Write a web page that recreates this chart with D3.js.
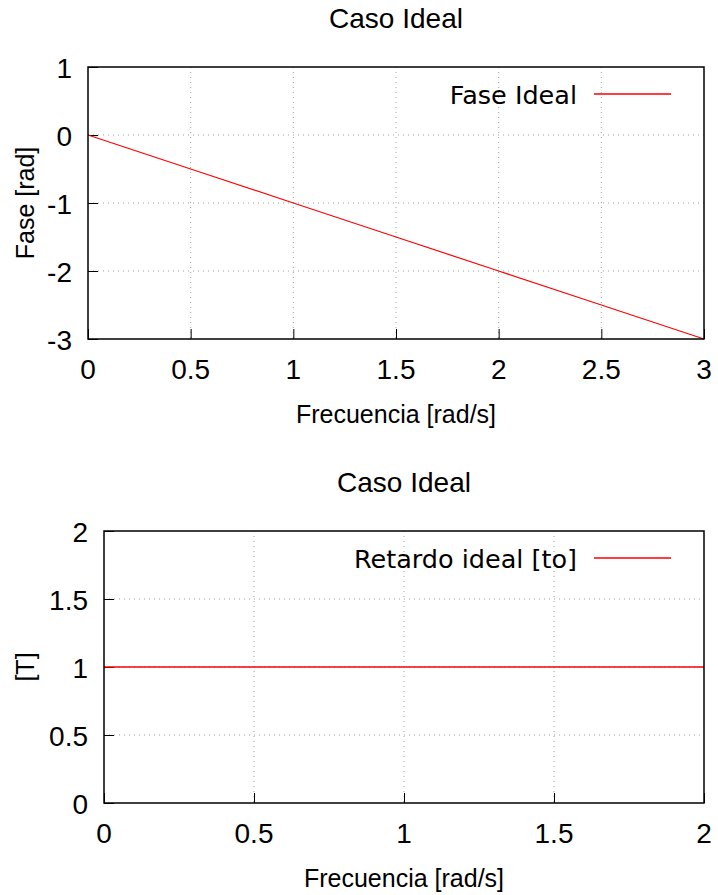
<!DOCTYPE html>
<html>
<head>
<meta charset="utf-8">
<script src="https://cdn.jsdelivr.net/npm/d3@7"></script>
<style>
  body { margin: 0; background: #fff; }
  text { font-family: "Liberation Sans", Arial, sans-serif; fill: #000; }
</style>
</head>
<body>
<script>
// chart size
var w = 718;
var h = 895;

// data, top plot (phase)
var freq1 = [0, 0.5, 1, 1.5, 2, 2.5, 3];
var fase = [0, -0.5, -1, -1.5, -2, -2.5, -3];
var xTicks1 = [0, 0.5, 1, 1.5, 2, 2.5, 3];
var yTicks1 = [-3, -2, -1, 0, 1];

// data, bottom plot (delay)
var freq2 = [0, 0.5, 1, 1.5, 2];
var retardo = [1, 1, 1, 1, 1];
var xTicks2 = [0, 0.5, 1, 1.5, 2];
var yTicks2 = [0, 0.5, 1, 1.5, 2];

var svg = d3.select("body")
  .append("svg")
  .attr("width", w)
  .attr("height", h);

function drawPlot(opt) {
  var x = d3.scaleLinear().domain(opt.xDomain).range([opt.left, opt.right]);
  var y = d3.scaleLinear().domain(opt.yDomain).range([opt.bottom, opt.top]);
  var g = svg.append("g");

  // grid (dotted)
  g.selectAll(".gx").data(opt.xTicks.slice(1, -1)).enter().append("line")
    .attr("x1", d => x(d)).attr("x2", d => x(d))
    .attr("y1", opt.top).attr("y2", opt.bottom)
    .attr("stroke", "#a0a0a0").attr("stroke-dasharray", "1,4");
  g.selectAll(".gy").data(opt.yTicks.slice(1, -1)).enter().append("line")
    .attr("y1", d => y(d)).attr("y2", d => y(d))
    .attr("x1", opt.left).attr("x2", opt.right)
    .attr("stroke", "#a0a0a0").attr("stroke-dasharray", "1,4");

  // inward ticks via d3 axes
  var xAxis = d3.axisBottom(x).tickValues(opt.xTicks).tickSize(-10).tickFormat("");
  var yAxis = d3.axisLeft(y).tickValues(opt.yTicks).tickSize(-10).tickFormat("");
  g.append("g").attr("transform", "translate(0," + opt.bottom + ")").call(xAxis)
    .call(a => a.select(".domain").remove());
  g.append("g").attr("transform", "translate(" + opt.left + ",0)").call(yAxis)
    .call(a => a.select(".domain").remove());
  g.selectAll(".tick line").attr("stroke", "#000");

  // tick labels
  g.selectAll(".xl").data(opt.xTicks).enter().append("text")
    .attr("x", d => x(d)).attr("y", opt.bottom + 40)
    .attr("text-anchor", "middle").attr("font-size", 28)
    .text(d => d);
  g.selectAll(".yl").data(opt.yTicks).enter().append("text")
    .attr("x", opt.left - 16).attr("y", d => y(d) + 11)
    .attr("text-anchor", "end").attr("font-size", 28)
    .text(d => d);

  // data line
  var line = d3.line().x(d => x(d[0])).y(d => y(d[1]));
  g.append("path")
    .datum(d3.zip(opt.xs, opt.ys))
    .attr("d", line)
    .attr("fill", "none").attr("stroke", "red").attr("stroke-width", opt.lw);

  // frame
  g.append("rect")
    .attr("x", opt.left).attr("y", opt.top)
    .attr("width", opt.right - opt.left).attr("height", opt.bottom - opt.top)
    .attr("fill", "none").attr("stroke", "#000").attr("stroke-width", 1.5);

  // title and labels
  var cx = (opt.left + opt.right) / 2;
  g.append("text").attr("x", cx).attr("y", opt.top - 39)
    .attr("text-anchor", "middle").attr("font-size", 28).text(opt.title);
  g.append("text").attr("x", cx).attr("y", opt.bottom + 84)
    .attr("text-anchor", "middle").attr("font-size", 25).text(opt.xLabel);
  g.append("text")
    .attr("transform", "translate(34," + (opt.top + opt.bottom) / 2 + ") rotate(-90)")
    .attr("text-anchor", "middle").attr("font-size", 25).text(opt.yLabel);

  // legend
  var ly = opt.top + 27;
  g.append("line").attr("x1", 594).attr("x2", 671).attr("y1", ly).attr("y2", ly)
    .attr("stroke", "red").attr("stroke-width", 1.3);
  g.append("text").attr("x", 577).attr("y", ly + 10)
    .attr("text-anchor", "end").attr("font-size", 25.5)
    .style("font-family", "'DejaVu Sans', sans-serif")
    .text(opt.legend);
}

drawPlot({
  left: 88, right: 704, top: 67, bottom: 339,
  xDomain: [0, 3], yDomain: [-3, 1],
  xTicks: xTicks1, yTicks: yTicks1,
  xs: freq1, ys: fase, lw: 1.2,
  title: "Caso Ideal", xLabel: "Frecuencia [rad/s]", yLabel: "Fase [rad]",
  legend: "Fase Ideal"
});

drawPlot({
  left: 104, right: 704, top: 531, bottom: 803,
  xDomain: [0, 2], yDomain: [0, 2],
  xTicks: xTicks2, yTicks: yTicks2,
  xs: freq2, ys: retardo, lw: 1.4,
  title: "Caso Ideal", xLabel: "Frecuencia [rad/s]", yLabel: "[T]",
  legend: "Retardo ideal [to]"
});
</script>
</body>
</html>
